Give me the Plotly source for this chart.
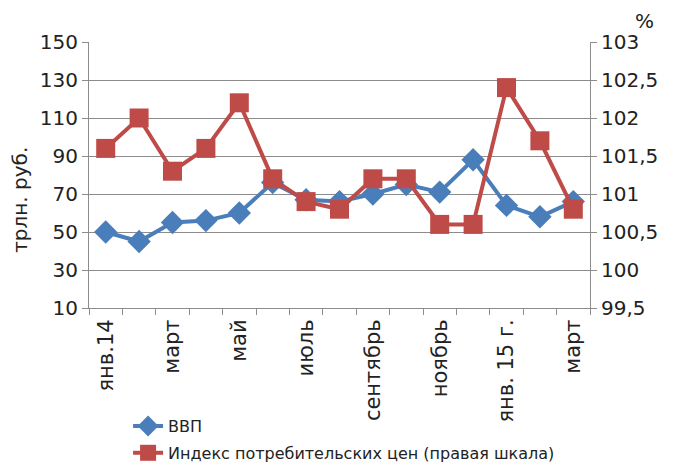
import plotly.graph_objects as go

# months Jan 2014 - Mar 2015
months = ["янв.14", "фев.14", "март.14", "апр.14", "май.14", "июнь.14", "июль.14",
          "авг.14", "сент.14", "окт.14", "нояб.14", "дек.14", "янв.15", "фев.15", "март.15"]
month_labels = ["янв.14", "", "март", "", "май", "", "июль", "", "сентябрь", "",
                "ноябрь", "", "янв. 15 г.", "", "март"]

gdp = [50, 45, 55, 56, 60, 76, 67, 66, 70, 75, 71, 88, 64, 58, 66]
cpi = [101.6, 102.0, 101.3, 101.6, 102.2, 101.2, 100.9, 100.8, 101.2, 101.2,
       100.6, 100.6, 102.4, 101.7, 100.8]

left_ticks = [10, 30, 50, 70, 90, 110, 130, 150]
right_ticks = [99.5, 100, 100.5, 101, 101.5, 102, 102.5, 103]
right_text = ["99,5", "100", "100,5", "101", "101,5", "102", "102,5", "103"]

blue = "#4A7EBB"
red = "#BE4B48"
grid = "#8C8C8C"
font = "DejaVu Sans"

fig = go.Figure()
fig.add_trace(go.Scatter(
    x=months, y=gdp, name="ВВП", mode="lines+markers", legendgroup="a",
    line=dict(color=blue, width=4),
    marker=dict(symbol="diamond", size=18, color=blue),
))
fig.add_trace(go.Scatter(
    x=months, y=cpi, name="Индекс потребительских цен (правая шкала)",
    mode="lines+markers", yaxis="y2", legendgroup="b",
    line=dict(color=red, width=4),
    marker=dict(symbol="square", size=19, color=red),
))

# the page body adds an 8px offset, margins compensate for it;
# autoexpand off so the legend can't shrink the plot
fig.update_layout(
    width=684, height=467,
    margin=dict(l=81, r=102, t=34, b=167, autoexpand=False),
    paper_bgcolor="white", plot_bgcolor="white",
    font=dict(family=font, color="#222222"),
    xaxis=dict(
        type="category", categoryorder="array", categoryarray=months,
        range=[-0.5, len(months) - 0.5],
        tickvals=months, ticktext=month_labels, tickangle=-90,
        tickson="boundaries", ticks="outside", ticklen=6, tickcolor=grid,
        showline=True, linecolor=grid, linewidth=1, showgrid=False,
        tickfont=dict(size=21, family=font), automargin=False,
        ticklabelstandoff=2,
    ),
    yaxis=dict(
        range=[10, 150], tickvals=left_ticks, ticks="outside", ticklen=6,
        tickcolor=grid, showgrid=True, gridcolor=grid, gridwidth=1,
        showline=True, linecolor=grid, zeroline=False,
        tickfont=dict(size=20, family=font), automargin=False,
    ),
    yaxis2=dict(
        range=[99.5, 103], overlaying="y", side="right",
        tickvals=right_ticks, ticktext=right_text, ticks="outside", ticklen=6,
        tickcolor=grid, showgrid=False, showline=True, linecolor=grid,
        zeroline=False, tickfont=dict(size=20, family=font), automargin=False,
    ),
    legend=dict(
        x=0.078, y=-0.38, xanchor="left", yanchor="top",
        font=dict(size=16, family=font), tracegroupgap=3,
        bgcolor="rgba(0,0,0,0)",
    ),
    annotations=[
        dict(text="%", xref="paper", yref="paper", x=1.108, y=1.08,
             xanchor="center", yanchor="middle",
             showarrow=False, font=dict(size=20, family=font)),
        dict(text="трлн. руб.", xref="paper", yref="paper", x=-0.138, y=0.406,
             xanchor="center", yanchor="middle", textangle=-90,
             showarrow=False, font=dict(size=20, family=font)),
    ],
)

fig.write_html("out.html")
